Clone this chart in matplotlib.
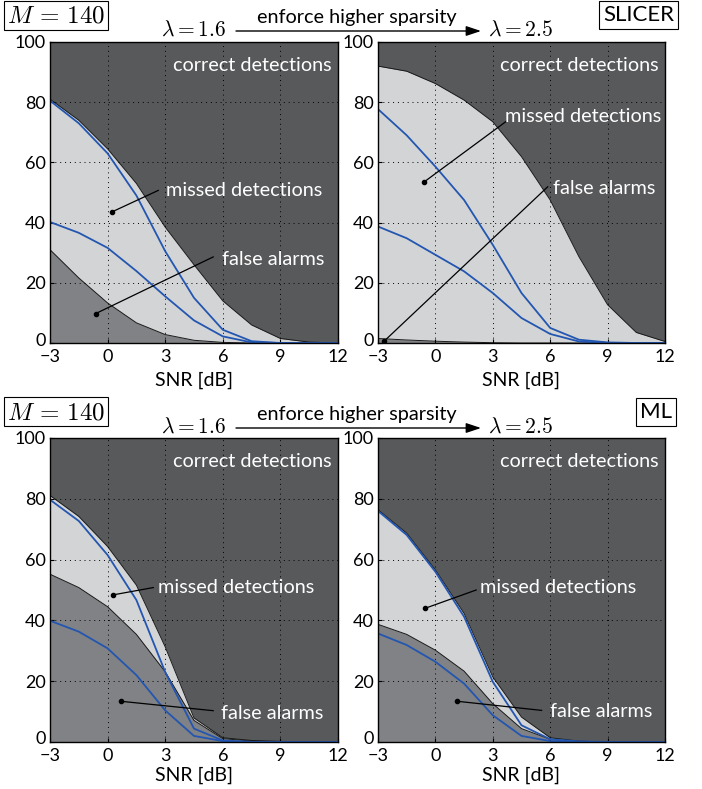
import numpy as np
import matplotlib
matplotlib.use("Agg")
import matplotlib.pyplot as plt
from matplotlib.transforms import ScaledTranslation

plt.rcParams['font.family'] = ['Lato', 'DejaVu Sans']
plt.rcParams['mathtext.fontset'] = 'cm'

snr = [-3, -1.5, 0, 1.5, 3, 4.5, 6, 7.5, 9, 10.5, 12]
xticks = [-3, 0, 3, 6, 9, 12]
yticks = [0, 20, 40, 60, 80, 100]

# SLICER, lambda = 1.6
sl16_upper = [81, 74, 64.5, 53, 38.5, 26, 14, 6, 1.5, 0.3, 0]
sl16_lower = [31, 21.6, 13.3, 6.7, 2.8, 0.9, 0.2, 0, 0, 0, 0]
sl16_blue1 = [80.5, 73, 63, 49, 30.5, 15, 4.4, 0.6, 0, 0, 0]
sl16_blue2 = [40.2, 36.6, 31.6, 23.9, 15.5, 7.5, 2.2, 0.2, 0, 0, 0]

# SLICER, lambda = 2.5
sl25_upper = [92, 90.3, 86.2, 80.7, 73.5, 61.9, 47.5, 28.7, 12.7, 3.5, 0.5]
sl25_lower = [1.5, 1.0, 0.6, 0.3, 0.1, 0, 0, 0, 0, 0, 0]
sl25_blue1 = [77.7, 69, 58.6, 47.5, 32.6, 16.6, 5, 1.1, 0.2, 0, 0]
sl25_blue2 = [38.7, 34.8, 29.3, 23.8, 16.6, 8.3, 3, 0.5, 0, 0, 0]

# ML, lambda = 1.6
ml16_upper = [81.1, 74.2, 64.3, 51.6, 31.3, 7.9, 1.4, 0.5, 0.2, 0, 0]
ml16_lower = [55.2, 50.8, 44.5, 35.4, 23.1, 7.1, 1.1, 0.3, 0, 0, 0]
ml16_blue1 = [79.7, 72.7, 61.5, 46.7, 23, 4.4, 0.5, 0, 0, 0, 0]
ml16_blue2 = [39.9, 36.3, 30.8, 22, 10.4, 2, 0.3, 0, 0, 0, 0]

# ML, lambda = 2.5
ml25_upper = [76.4, 68.7, 56.6, 42.3, 21.4, 8.2, 1.4, 0.3, 0, 0, 0]
ml25_lower = [38.7, 35.4, 30.2, 23.3, 12.6, 4.4, 0.9, 0, 0, 0, 0]
ml25_blue1 = [76, 68.1, 56, 41.2, 19.8, 5.5, 0.9, 0.2, 0, 0, 0]
ml25_blue2 = [35.7, 31.9, 26.4, 19.2, 8.8, 2, 0.3, 0, 0, 0, 0]

C_DARK = '#58595b'
C_LIGHT = '#d3d4d6'
C_MED = '#808285'
C_BLUE = '#2356b0'

fig = plt.figure(figsize=(7.02, 7.89), dpi=100)
W, H = 702, 789

def axpos(x0, y0, x1, y1):
    return [x0 / W, 1 - y1 / H, (x1 - x0) / W, (y1 - y0) / H]

panels = [
    (axpos(50, 42, 338, 343), sl16_upper, sl16_lower, sl16_blue1, sl16_blue2,
     (0.21, 43.5, 2.64, 50.7, 3.03, 50.7), (-0.61, 9.8, 5.5, 28.6, 5.98, 27.7), 5),
    (axpos(378, 42, 665, 343), sl25_upper, sl25_lower, sl25_blue1, sl25_blue2,
     (-0.57, 53.6, 3.78, 74.0, 3.64, 75.1), (-2.69, 0.55, 5.87, 51.9, 6.16, 51.2), 5),
    (axpos(50, 438, 338, 742), ml16_upper, ml16_lower, ml16_blue1, ml16_blue2,
     (0.29, 48.4, 2.38, 50.8, 2.65, 50.8), (0.68, 13.4, 5.5, 10.3, 5.93, 9.3), 2.5),
    (axpos(378, 438, 665, 742), ml25_upper, ml25_lower, ml25_blue1, ml25_blue2,
     (-0.53, 44.0, 2.13, 50.0, 2.35, 50.8), (1.14, 13.4, 5.55, 10.4, 5.99, 9.9), 2.5),
]

for pos, up, lo, b1, b2, miss, fa, lpad in panels:
    ax = fig.add_axes(pos)
    ax.set_facecolor(C_DARK)
    ax.fill_between(snr, 0, lo, color=C_MED, lw=0, zorder=0.5)
    ax.fill_between(snr, lo, up, color=C_LIGHT, lw=0, zorder=0.5)
    ax.plot(snr, up, color='#1a1a1a', lw=0.7, zorder=1)
    ax.plot(snr, lo, color='#1a1a1a', lw=0.7, zorder=1)
    ax.plot(snr, b1, color=C_BLUE, lw=1.3, zorder=3)
    ax.plot(snr, b2, color=C_BLUE, lw=1.3, zorder=3)
    ax.set_xlim(-3, 12)
    ax.set_ylim(0, 100)
    ax.set_xticks(xticks)
    ax.set_xticklabels(['\u22123', '0', '3', '6', '9', '12'])
    ax.set_yticks(yticks)
    ax.grid(True, color='black', linestyle=(0, (1, 4)), lw=0.7)
    ax.set_axisbelow(False)
    ax.tick_params(direction='in', length=3, labelsize=13, color='black')
    ax.tick_params(axis='x', pad=4)
    ax.tick_params(axis='y', pad=3)
    # nudge the "0" y tick label slightly upward (as in the reference)
    ylab0 = ax.get_yticklabels()[0]
    ylab0.set_transform(ylab0.get_transform() + ScaledTranslation(0, 4 / 100, fig.dpi_scale_trans))
    for s in ax.spines.values():
        s.set_linewidth(1.0)
        s.set_zorder(4)
    ax.set_xlabel('SNR [dB]', fontsize=14, labelpad=lpad)
    ax.text(11.65, 92.2, 'correct detections', color='white', fontsize=14.3,
            ha='right', va='center', zorder=5)
    for (dx, dy, ex, ey, tx, ty), label in ((miss, 'missed detections'), (fa, 'false alarms')):
        ax.plot([dx, ex], [dy, ey], color='black', lw=0.9, zorder=5)
        ax.plot([dx], [dy], 'o', color='black', ms=3, zorder=5)
        ax.text(tx, ty, label, color='white', fontsize=14.3, ha='left', va='center', zorder=5)

def header(ytop, method_label, box_cx):
    fig.text(7 / W, 1 - (ytop + 14) / H, r'$M\,=\,140$', fontsize=18, ha='left', va='center',
             bbox=dict(boxstyle='square,pad=0.12', fc='white', ec='black', lw=0.8))
    fig.text(194 / W, 1 - (ytop + 29) / H, r'$\lambda = 1.6$', fontsize=15.5, ha='center', va='center')
    fig.text(521 / W, 1 - (ytop + 29) / H, r'$\lambda = 2.5$', fontsize=15.5, ha='center', va='center')
    fig.text(357 / W, 1 - (ytop + 16) / H, 'enforce higher sparsity', fontsize=14.3,
             ha='center', va='center')
    fig.add_artist(matplotlib.patches.FancyArrowPatch(
        (236 / W, 1 - (ytop + 30) / H), (481 / W, 1 - (ytop + 30) / H),
        transform=fig.transFigure, arrowstyle='-|>,head_length=9,head_width=3',
        color='black', lw=1.0, mutation_scale=1.0, shrinkA=0, shrinkB=0))
    fig.text(box_cx / W, 1 - (ytop + 14) / H, method_label, fontsize=16,
             ha='center', va='center',
             bbox=dict(boxstyle='square,pad=0.18', fc='white', ec='black', lw=0.8))

header(1, 'SLICER', 638.5)
header(398, 'ML', 655.5)

fig.savefig('out.png', dpi=100)
